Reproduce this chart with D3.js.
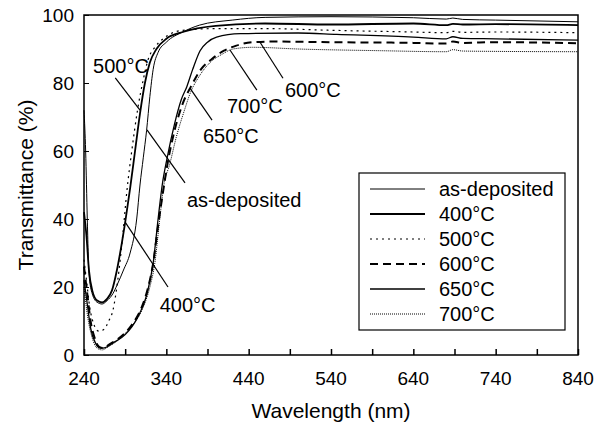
<!DOCTYPE html>
<html>
<head>
<meta charset="utf-8">
<script src="https://cdn.jsdelivr.net/npm/d3@7"></script>
<style>
  body { margin: 0; background: #fff; }
  svg { font-family: "Liberation Sans", Arial, sans-serif; }
  .line { fill: none; stroke: #000; }
</style>
</head>
<body>
<svg width="610" height="430"></svg>
<script>
var margin = {top: 15, right: 32, bottom: 75, left: 84},
    width = 610 - margin.left - margin.right,
    height = 430 - margin.top - margin.bottom;

// wavelength (nm), transmittance (%)
var asDeposited = [[240,72],[242,60],[244,40],[246,24],[250,18],[256,15.5],[262,15],[268,16],[275,18],[280,20.5],
  [288,25],[296,30],[304,40],[308,50],[312,58],[316,66],[320,76],[324,84],[330,89],[340,92],[360,95],[380,97],
  [420,98.5],[460,99.3],[540,99.5],[640,99.2],[680,98.8],[688,99.1],[700,98.7],[740,98.5],[840,98]];
var t400 = [[240,42],[243,35],[246,25],[250,19],[256,16],[262,15.5],[268,16.5],[274,19],[280,25],[286,33],
  [290,39],[296,49],[302,60],[308,71],[314,80],[320,86],[328,90],[340,93],[360,95],[400,96.8],[460,97.5],
  [540,97.2],[640,97.5],[680,97],[688,97.4],[700,97.2],[740,97.3],[840,97]];
var t500 = [[240,28],[243,22],[247,14],[252,9],[258,7],[264,7.5],[270,10],[275,13],[281,22],[287,35],[292,48],
  [298,60],[305,72],[312,81],[318,87],[326,90.5],[336,93],[360,95.5],[400,96],[460,96],[540,95.5],[640,95],
  [680,94.8],[688,95.2],[700,94.9],[740,95],[840,94.8]];
var t600 = [[240,26],[244,18],[248,10],[253,5],[258,2.5],[264,2],[270,3],[280,4.5],[290,6.5],[300,9.5],[310,14],
  [318,20],[324,27],[330,38],[336,48],[342,57],[350,66],[360,74],[370,79],[382,84],[395,87],[410,89.5],[425,91],
  [445,92],[470,92.2],[540,92],[640,91.8],[680,91.6],[688,92.2],[700,91.8],[740,92],[840,91.7]];
var t650 = [[240,22],[244,15],[248,8],[254,3.5],[260,2],[266,2.2],[275,3.5],[290,6],[305,11],[316,17.5],[324,27],
  [330,40],[335,50],[341,58],[350,68],[358,75],[365,79],[372,84],[381,89.5],[390,92],[401,93.5],[430,94.5],
  [500,94.7],[547,94.3],[640,93.5],[680,93],[688,93.6],[700,93.1],[740,93],[840,92.6]];
var t700 = [[240,20],[244,12],[250,5],[256,2],[262,1.5],[270,2.5],[282,4.5],[296,8],[310,13],[320,20],[326,27],
  [332,40],[337,50],[344,56],[352,64],[362,72],[369,77],[380,82],[393,86],[408,88.5],[421,90],[445,90.5],
  [500,90],[600,89.5],[680,89.2],[688,89.8],[700,89.4],[740,89.3],[840,89.2]];

var seriesNames = ["as-deposited", "400°C", "500°C", "600°C", "650°C", "700°C"];
var seriesData = [asDeposited, t400, t500, t600, t650, t700];

var xTicks = [240, 340, 440, 540, 640, 740, 840];
var xMinorTicks = d3.range(240, 841, 50);
var yTicks = [0, 20, 40, 60, 80, 100];

// callout labels: text anchor and pointer ends, in data units
var callouts = [
  {text: "500°C", tx: 251, ty: 83, x1: 278, y1: 81.5, x2: 308, y2: 72},
  {text: "as-deposited", tx: 365, ty: 43.5, x1: 316.5, y1: 66.2, x2: 362.7, y2: 50.6},
  {text: "400°C", tx: 332, ty: 12.6, x1: 290, y1: 39.1, x2: 342, y2: 20},
  {text: "650°C", tx: 384.5, ty: 62.4, x1: 368.7, y1: 78.5, x2: 395.5, y2: 69.1},
  {text: "700°C", tx: 413.7, ty: 71.2, x1: 417.3, y1: 89.7, x2: 450, y2: 77.9},
  {text: "600°C", tx: 484, ty: 75.9, x1: 453.8, y1: 92, x2: 481.7, y2: 81.4}
];

var styles = [
  {w: 1, dash: null},
  {w: 1.8, dash: null},
  {w: 1.2, dash: "2,4"},
  {w: 2, dash: "8,5"},
  {w: 1.3, dash: null},
  {w: 1, dash: "1,1"}
];

var svg = d3.select("svg");

var x = d3.scaleLinear().domain([240, 840]).range([margin.left, margin.left + width]);
var y = d3.scaleLinear().domain([0, 100]).range([margin.top + height, margin.top]);

// frame
svg.append("rect")
  .attr("x", x(240)).attr("y", y(100))
  .attr("width", x(840) - x(240)).attr("height", y(0) - y(100))
  .attr("fill", "none").attr("stroke", "#000").attr("stroke-width", 1.5);

// x axis
var xAxis = svg.append("g")
  .attr("transform", "translate(0," + y(0) + ")")
  .call(d3.axisBottom(x).tickValues(xMinorTicks).tickSize(-6).tickFormat(""));
xAxis.select(".domain").remove();
xAxis.selectAll("line").attr("stroke-width", 1.5);

svg.append("g").selectAll("text")
  .data(xTicks)
  .enter().append("text")
  .attr("x", function(d) { return x(d); })
  .attr("y", y(0) + 30)
  .attr("text-anchor", "middle")
  .style("font-size", "19px")
  .text(function(d) { return d; });

// y axis
var yAxis = svg.append("g")
  .attr("transform", "translate(" + x(240) + ",0)")
  .call(d3.axisLeft(y).tickValues(yTicks).tickSize(-5).tickFormat(""));
yAxis.select(".domain").remove();

svg.append("g").selectAll("text")
  .data(yTicks)
  .enter().append("text")
  .attr("x", x(240) - 10)
  .attr("y", function(d) { return y(d) + 7; })
  .attr("text-anchor", "end")
  .style("font-size", "19px")
  .text(function(d) { return d; });

svg.append("text")
  .attr("x", (x(240) + x(840)) / 2)
  .attr("y", 418)
  .attr("text-anchor", "middle")
  .style("font-size", "21px")
  .text("Wavelength (nm)");

svg.append("text")
  .attr("transform", "translate(33," + (y(50)) + ") rotate(-90)")
  .attr("text-anchor", "middle")
  .style("font-size", "21px")
  .text("Transmittance (%)");

// curves
var line = d3.line()
  .x(function(d) { return x(d[0]); })
  .y(function(d) { return y(d[1]); })
  .curve(d3.curveMonotoneX);

svg.append("g").selectAll("path")
  .data(seriesData)
  .enter().append("path")
  .attr("class", "line")
  .attr("d", line)
  .attr("stroke-width", function(d, i) { return styles[i].w; })
  .attr("stroke-dasharray", function(d, i) { return styles[i].dash; });

// callouts
var co = svg.append("g");
co.selectAll("line")
  .data(callouts)
  .enter().append("line")
  .attr("x1", function(d) { return x(d.x1); })
  .attr("y1", function(d) { return y(d.y1); })
  .attr("x2", function(d) { return x(d.x2); })
  .attr("y2", function(d) { return y(d.y2); })
  .attr("stroke", "#000").attr("stroke-width", 1.2);
co.selectAll("text")
  .data(callouts)
  .enter().append("text")
  .attr("x", function(d) { return x(d.tx); })
  .attr("y", function(d) { return y(d.ty); })
  .style("font-size", "20px")
  .text(function(d) { return d.text; });

// legend
var legend = svg.append("g");
legend.append("rect")
  .attr("x", 359).attr("y", 173).attr("width", 206).attr("height", 157)
  .attr("fill", "#fff").attr("stroke", "#000").attr("stroke-width", 1.2);

var rows = legend.selectAll(".row")
  .data(seriesNames)
  .enter().append("g")
  .attr("class", "row")
  .attr("transform", function(d, i) { return "translate(0," + (189 + i * 25) + ")"; });

rows.append("line")
  .attr("x1", 370).attr("x2", 425)
  .attr("y1", 0).attr("y2", 0)
  .attr("stroke", "#000")
  .attr("stroke-width", function(d, i) { return styles[i].w; })
  .attr("stroke-dasharray", function(d, i) { return styles[i].dash; });

rows.append("text")
  .attr("x", 439)
  .attr("y", 7)
  .style("font-size", "20px")
  .text(function(d) { return d; });
</script>
</body>
</html>
